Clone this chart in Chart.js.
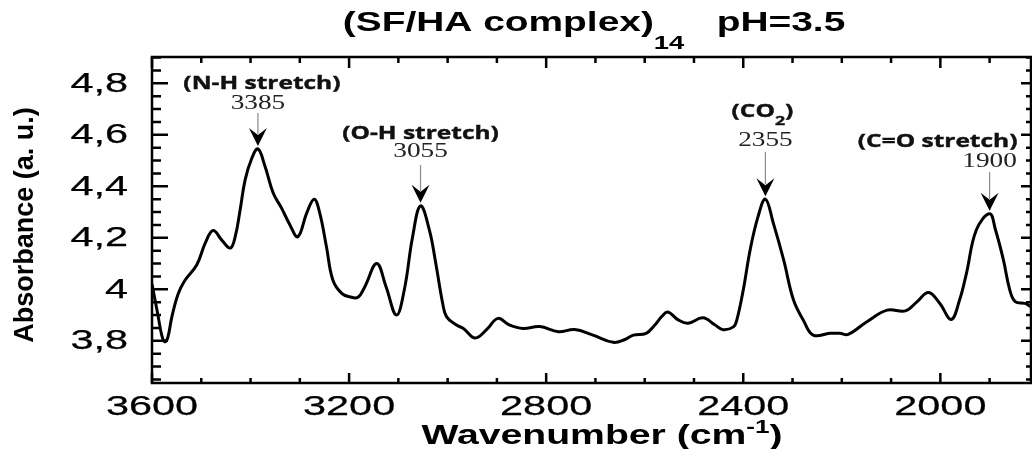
<!DOCTYPE html>
<html>
<head>
<meta charset="utf-8">
<script src="https://cdn.jsdelivr.net/npm/chart.js@4/dist/chart.umd.min.js"></script>
<style>
  html, body { margin: 0; padding: 0; background: #ffffff; }
  canvas { display: block; }
</style>
</head>
<body>
<canvas id="spectrum" width="1032" height="449"></canvas>
<script>
// FTIR spectrum of the SF/HA complex (sample 14) at pH 3.5
const wavenumbers = [
  3600, 3588, 3580, 3574, 3568, 3560, 3547, 3533, 3509, 3492,
  3476, 3458, 3441, 3431, 3421, 3411, 3398, 3385, 3371, 3354,
  3337, 3320, 3304, 3286, 3271, 3260, 3246, 3233, 3215, 3199,
  3182, 3168, 3144, 3125, 3104, 3088, 3071, 3055, 3037, 3024,
  3010, 3002, 2982, 2968, 2944, 2920, 2898, 2875, 2847, 2813,
  2775, 2742, 2705, 2664, 2640, 2623, 2597, 2580, 2565, 2553,
  2532, 2512, 2482, 2457, 2441, 2420, 2413, 2400, 2386, 2370,
  2355, 2339, 2318, 2298, 2278, 2258, 2224, 2204, 2187, 2149,
  2108, 2071, 2047, 2024, 2001, 1978, 1961, 1947, 1927, 1900,
  1888, 1872, 1859, 1848, 1828, 1816
];
const absorbance = [
  4.020, 3.900, 3.820, 3.796, 3.812, 3.890, 3.982, 4.035, 4.095, 4.179,
  4.228, 4.190, 4.160, 4.205, 4.310, 4.425, 4.506, 4.545, 4.480, 4.374,
  4.315, 4.250, 4.204, 4.296, 4.350, 4.300, 4.166, 4.036, 3.984, 3.971,
  3.969, 4.010, 4.100, 4.010, 3.900, 3.997, 4.205, 4.324, 4.230, 4.100,
  3.945, 3.893, 3.861, 3.848, 3.811, 3.845, 3.887, 3.862, 3.848, 3.855,
  3.835, 3.844, 3.822, 3.794, 3.805, 3.822, 3.829, 3.860, 3.895, 3.912,
  3.881, 3.868, 3.889, 3.861, 3.843, 3.854, 3.881, 3.997, 4.153, 4.282,
  4.350, 4.257, 4.114, 3.958, 3.880, 3.822, 3.829, 3.829, 3.825, 3.874,
  3.919, 3.916, 3.952, 3.987, 3.945, 3.883, 3.958, 4.062, 4.230, 4.293,
  4.230, 4.114, 3.997, 3.952, 3.945, 3.932
];

// Axis ticks
const xTickValues = [3600, 3200, 2800, 2400, 2000];
const xTickLabels = ['3600', '3200', '2800', '2400', '2000'];
const yTickValues = [3.8, 4.0, 4.2, 4.4, 4.6, 4.8];
const yTickLabels = ['3,8', '4', '4,2', '4,4', '4,6', '4,8'];

// Band assignments
const peakPositions = [3385, 3055, 2355, 1900];
const peakNames = ['(N-H stretch)', '(O-H stretch)', '(CO_{2})', '(C=O stretch)'];
const peakNumbers = ['3385', '3055', '2355', '1900'];

const chartTitle = '(SF/HA complex)_{14}   pH=3.5';
const xTitle = 'Wavenumber (cm^{-1})';
const yTitle = 'Absorbance (a. u.)';

// ---- styling ----
const xRange = { min: 1816, max: 3600 };
const yRange = { min: 3.636, max: 4.902 };
const xMinorStep = 100;
const yMinorStep = 0.05;
const frameWidth = 2.5;
const ticks = { bottomMajor: 10, bottomMinor: 5, topMajor: 11, topMinor: 6,
                leftMajor: 16, leftMinor: 9, rightMajor: 10, rightMinor: 5 };
const annotationLayout = [
  { dx: 4,   labelBase: 89,  numBase: 109, lineTop: 113 },
  { dx: 0,   labelBase: 139, numBase: 157, lineTop: 165 },
  { dx: -3,  labelBase: 117, numBase: 146, lineTop: 152 },
  { dx: -52, labelBase: 147, numBase: 167, lineTop: 172 }
];

// Split "a_{b}c^{d}" into runs of normal / subscript / superscript text
function parseRich(str) {
  const runs = [];
  const re = /([_^])\{([^}]*)\}/g;
  let last = 0, m;
  while ((m = re.exec(str)) !== null) {
    if (m.index > last) runs.push({ t: str.slice(last, m.index), kind: 'n' });
    runs.push({ t: m[2], kind: m[1] === '_' ? 'sub' : 'sup' });
    last = re.lastIndex;
  }
  if (last < str.length) runs.push({ t: str.slice(last), kind: 'n' });
  return runs;
}

// Draw text horizontally stretched by factor k, with sub/superscripts
function drawRich(ctx, str, x, y, o) {
  const runs = parseRich(str);
  const fontFor = (kind) => {
    const s = kind === 'n' ? o.size : Math.round(o.size * (o.subScale || 0.68));
    return `${o.weight || 'normal'} ${s}px ${o.family}`;
  };
  let total = 0;
  runs.forEach(r => { ctx.font = fontFor(r.kind); r.w = ctx.measureText(r.t).width * o.k; total += r.w; });
  let cx = o.align === 'left' ? x : o.align === 'right' ? x - total : x - total / 2;
  ctx.fillStyle = o.color || '#000';
  ctx.textAlign = 'left';
  ctx.textBaseline = o.baseline || 'alphabetic';
  runs.forEach(r => {
    const dy = r.kind === 'sub' ? (o.subDy || 0) : r.kind === 'sup' ? (o.supDy || 0) : 0;
    ctx.save();
    ctx.font = fontFor(r.kind);
    ctx.translate(cx, y + dy);
    ctx.scale(o.k, 1);
    ctx.fillText(r.t, 0, 0);
    if (o.stroke) { ctx.strokeStyle = o.color || '#000'; ctx.lineWidth = o.stroke; ctx.strokeText(r.t, 0, 0); }
    ctx.restore();
    cx += r.w;
  });
}

const spectrumDecor = {
  id: 'spectrumDecor',
  afterDatasetsDraw(chart) {
    const { ctx, chartArea: a, scales: { x, y } } = chart;
    ctx.save();

    // frame
    ctx.strokeStyle = '#000';
    ctx.lineWidth = frameWidth;
    ctx.strokeRect(a.left, a.top, a.right - a.left, a.bottom - a.top);

    // x ticks (bottom & top, inward)
    ctx.beginPath();
    for (let v = xRange.max; v >= x.min - 1e-6; v -= xMinorStep) {
      const px = x.getPixelForValue(v);
      const major = xTickValues.includes(v);
      ctx.moveTo(px, a.bottom);
      ctx.lineTo(px, a.bottom - (major ? ticks.bottomMajor : ticks.bottomMinor));
      ctx.moveTo(px, a.top);
      ctx.lineTo(px, a.top + (major ? ticks.topMajor : ticks.topMinor));
    }
    // y ticks (left & right, inward)
    const nStart = Math.ceil(y.min / yMinorStep - 1e-6);
    const nEnd = Math.floor(y.max / yMinorStep + 1e-6);
    for (let n = nStart; n <= nEnd; n++) {
      const v = n * yMinorStep;
      const py = y.getPixelForValue(v);
      const major = yTickValues.some(t => Math.abs(t - v) < 1e-6);
      ctx.moveTo(a.left, py);
      ctx.lineTo(a.left + (major ? ticks.leftMajor : ticks.leftMinor), py);
      ctx.moveTo(a.right, py);
      ctx.lineTo(a.right - (major ? ticks.rightMajor : ticks.rightMinor), py);
    }
    ctx.stroke();

    // tick labels
    const tickFont = { size: 28, family: '"Liberation Sans", Arial, sans-serif', k: 1.48, baseline: 'middle', stroke: 0.25 };
    xTickValues.forEach((v, i) => {
      drawRich(ctx, xTickLabels[i], x.getPixelForValue(v), 407, { ...tickFont, align: 'center' });
    });
    yTickValues.forEach((v, i) => {
      drawRich(ctx, yTickLabels[i], 128, y.getPixelForValue(v) + 1, { ...tickFont, align: 'right' });
    });

    // titles
    drawRich(ctx, chartTitle, 594, 31, {
      size: 27, weight: 'bold', family: '"Liberation Sans", Arial, sans-serif', k: 1.44,
      align: 'center', subScale: 0.7, subDy: 18
    });
    drawRich(ctx, xTitle, 602, 444, {
      size: 27, weight: 'bold', family: '"Liberation Sans", Arial, sans-serif', k: 1.45,
      align: 'center', subScale: 0.65, supDy: -11
    });
    ctx.save();
    ctx.translate(33, 225);
    ctx.rotate(-Math.PI / 2);
    drawRich(ctx, yTitle, 0, 0, {
      size: 27, weight: 'bold', family: '"Liberation Sans", Arial, sans-serif', k: 1, align: 'center'
    });
    ctx.restore();

    // band annotations with arrows
    peakPositions.forEach((w, i) => {
      const L = annotationLayout[i];
      const idx = wavenumbers.indexOf(w);
      const px = x.getPixelForValue(w);
      const tipY = y.getPixelForValue(absorbance[idx]) - 3;
      const headH = 18, headW = 9;

      ctx.strokeStyle = '#8a8a8a';
      ctx.lineWidth = 1.2;
      ctx.beginPath();
      ctx.moveTo(px, L.lineTop);
      ctx.lineTo(px, tipY - headH + 6);
      ctx.stroke();

      ctx.fillStyle = '#000';
      ctx.beginPath();
      ctx.moveTo(px, tipY);
      ctx.lineTo(px - headW, tipY - headH);
      ctx.lineTo(px, tipY - headH + 7);
      ctx.lineTo(px + headW, tipY - headH);
      ctx.closePath();
      ctx.fill();

      drawRich(ctx, peakNames[i], px + L.dx, L.labelBase, {
        size: 18, weight: 'bold', family: '"Open Sans", "DejaVu Sans", sans-serif', k: 1.36,
        align: 'center', color: '#111', subScale: 0.72, subDy: 8, stroke: 0.4
      });
      drawRich(ctx, peakNumbers[i], px, L.numBase, {
        size: 21, family: '"Liberation Serif", "Times New Roman", serif', k: 1.3,
        align: 'center', color: '#222'
      });
    });

    ctx.restore();
  }
};

new Chart(document.getElementById('spectrum'), {
  type: 'line',
  data: {
    datasets: [{
      data: wavenumbers.map((w, i) => ({ x: w, y: absorbance[i] })),
      borderColor: '#000',
      borderWidth: 3,
      pointRadius: 0,
      fill: false,
      tension: 0.4
    }]
  },
  options: {
    responsive: false,
    devicePixelRatio: 1,
    animation: false,
    layout: { padding: { left: 152, top: 57, right: 1, bottom: 66 } },
    plugins: { legend: { display: false }, tooltip: { enabled: false }, title: { display: false } },
    scales: {
      x: { type: 'linear', reverse: true, min: xRange.min, max: xRange.max, display: false },
      y: { type: 'linear', min: yRange.min, max: yRange.max, display: false }
    }
  },
  plugins: [spectrumDecor]
});
</script>
</body>
</html>
